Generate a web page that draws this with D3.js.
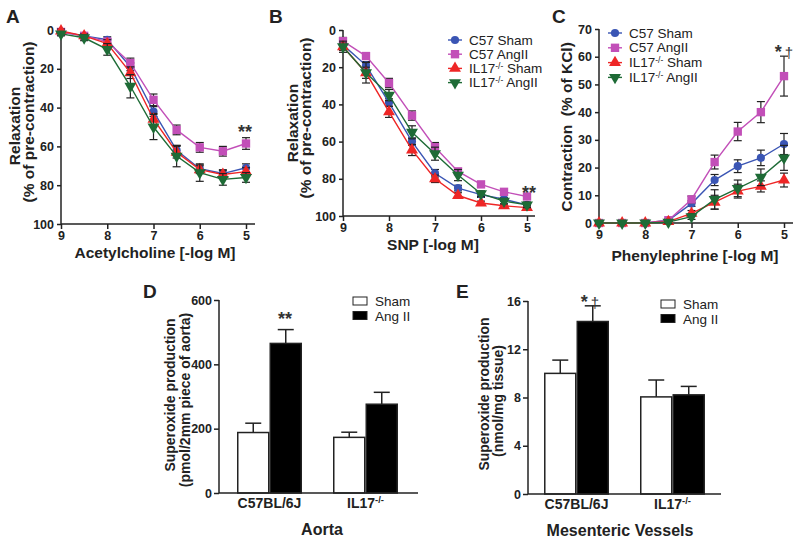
<!DOCTYPE html>
<html><head><meta charset="utf-8">
<script src="https://cdn.jsdelivr.net/npm/d3@7"></script>
<style>
body{margin:0;background:#fff;}
svg{display:block;font-family:"Liberation Sans",Arial,Helvetica,sans-serif;}
</style>
</head><body>
<svg id="chart" width="800" height="545"></svg>
<script>
// ---------- data ----------
const doses = [9, 8.5, 8, 7.5, 7, 6.5, 6, 5.5, 5];
const doseTicks = [9, 8, 7, 6, 5];
const seriesNames = ["C57 Sham", "C57 AngII", "IL17-/- Sham", "IL17-/- AngII"];
const seriesColors = ["#3a55b4", "#c24fb8", "#ee2626", "#1e6b36"];

// A: Acetylcholine relaxation (%)
const achC57Sham   = [1, 3, 5, 19, 42, 62, 71.5, 74, 71];
const achC57Ang    = [1, 3, 6, 17, 36, 51.5, 60.5, 62.5, 58.5];
const achKoSham    = [0.5, 3, 7, 22, 46, 63, 72, 74.5, 73];
const achKoAng     = [2, 4, 10, 29, 50, 65, 73.5, 77, 76];
const achC57ShamE  = [1, 1, 1.5, 2, 2.5, 2.5, 2, 2, 2];
const achC57AngE   = [1, 1, 1.5, 2.5, 3, 2.5, 2.5, 2.5, 3];
const achKoShamE   = [1, 1, 2, 3, 3, 3, 2, 2, 2];
const achKoAngE    = [1, 1.5, 3, 6, 6.5, 5.5, 4.5, 3, 2.5];

// B: SNP relaxation (%)
const snpC57Sham   = [8, 19, 39, 60, 77, 85, 88.5, 91, 94];
const snpC57Ang    = [6, 14, 28.5, 46, 63, 76, 83, 87, 89.5];
const snpKoSham    = [9, 23, 44, 64.5, 80, 89, 93, 94.5, 95.5];
const snpKoAng     = [9, 23, 35, 55, 66.5, 78, 88, 92, 94];
const snpC57ShamE  = [2, 2, 2, 2, 2, 1.5, 1.5, 1, 1];
const snpC57AngE   = [2, 1.5, 2.5, 2.5, 2.5, 1.5, 1, 1, 1];
const snpKoShamE   = [2, 3, 3, 3, 2, 1.5, 1, 1, 1];
const snpKoAngE    = [3, 5.5, 3, 3.5, 3.5, 3, 1.5, 1.5, 1.5];

// C: Phenylephrine contraction (% of KCl)
const pheC57Sham   = [0, 0, 0, 1, 7, 15.5, 20.5, 23.5, 28.5];
const pheC57Ang    = [0, 0, 0, 1, 8.5, 22, 33, 40, 53];
const pheKoSham    = [0, 0, 0, 0.5, 3.5, 7.5, 11.5, 13.2, 15.5];
const pheKoAng     = [0, 0, 0, 0.3, 2.3, 8.5, 12.5, 16.5, 23.5];
const pheC57ShamE  = [0.3, 0.3, 0.3, 0.5, 1, 2, 2.3, 2.8, 3.8];
const pheC57AngE   = [0.3, 0.3, 0.3, 0.5, 1.2, 2.5, 3.3, 3.8, 7.2];
const pheKoShamE   = [0.3, 0.3, 0.3, 0.5, 1, 2.5, 2.5, 2, 2.5];
const pheKoAngE    = [0.3, 0.3, 0.3, 0.5, 1, 3.5, 3, 3, 4.5];

// D / E: superoxide bars
const barGroups = ["C57BL/6J", "IL17-/-"];
const barSeries = ["Sham", "Ang II"];
const aortaSham = [188, 173];
const aortaShamE = [29, 16];
const aortaAng = [465, 276];
const aortaAngE = [43, 37];
const mesSham = [10.0, 8.05];
const mesShamE = [1.1, 1.4];
const mesAng = [14.3, 8.22];
const mesAngE = [1.3, 0.7];

const yTicksRelax = [0, 20, 40, 60, 80, 100];
const yTicksContr = [0, 10, 20, 30, 40, 50, 60, 70];
const yTicksAorta = [0, 200, 400, 600];
const yTicksMes = [0, 4, 8, 12, 16];

// ---------- drawing ----------
const svg = d3.select("#chart");
const INK = "#222";
const symbols = [d3.symbolCircle, d3.symbolSquare, d3.symbolTriangle, d3.symbolTriangle];
const symSizes = [52, 70, 62, 62];
const symRot = [0, 0, 0, 180];

function koLabel(sel, rest, supSize, dySup) {
  sel.append("tspan").text("IL17");
  sel.append("tspan").text("-/-").attr("font-size", supSize).attr("dy", -dySup);
  if (rest) sel.append("tspan").text(rest).attr("dy", dySup);
}

function styleAxis(g) {
  g.selectAll("path.domain").remove();
  g.selectAll(".tick line").attr("stroke", INK).attr("stroke-width", 1.5);
  g.selectAll(".tick text").attr("fill", INK).attr("font-weight", "bold").attr("font-size", 12.5).attr("font-family", null);
}

function linePanel(cfg) {
  const g = svg.append("g");
  const x = d3.scaleLinear().domain([9, 5]).range([cfg.x0, cfg.x1]);
  const y = d3.scaleLinear().domain(cfg.yDomain).range(cfg.yRange);
  const yBottom = Math.max(cfg.yRange[0], cfg.yRange[1]);
  const yTop = Math.min(cfg.yRange[0], cfg.yRange[1]);

  const gx = g.append("g").attr("transform", `translate(0,${yBottom})`)
    .call(d3.axisBottom(x).tickValues(doseTicks).tickFormat(d3.format("d")).tickSize(5).tickPadding(2));
  styleAxis(gx);
  const gy = g.append("g").attr("transform", `translate(${cfg.x0},0)`)
    .call(d3.axisLeft(y).tickValues(cfg.yTicks).tickSize(4).tickPadding(3));
  styleAxis(gy);
  g.append("line").attr("x1", cfg.x0).attr("x2", cfg.xEnd).attr("y1", yBottom).attr("y2", yBottom)
    .attr("stroke", INK).attr("stroke-width", 1.5);
  g.append("line").attr("x1", cfg.x0).attr("x2", cfg.x0).attr("y1", yTop).attr("y2", yBottom)
    .attr("stroke", INK).attr("stroke-width", 1.5);

  const line = d3.line().x((d, i) => x(doses[i])).y(d => y(d));
  cfg.series.forEach((vals, s) => {
    const errs = cfg.errors[s];
    const sg = g.append("g");
    vals.forEach((v, i) => {
      const cx = x(doses[i]);
      const lo = y(v - errs[i]), hi = y(v + errs[i]);
      sg.append("line").attr("x1", cx).attr("x2", cx).attr("y1", lo).attr("y2", hi).attr("stroke", INK).attr("stroke-width", 1.2);
      [lo, hi].forEach(yy => sg.append("line").attr("x1", cx - 4).attr("x2", cx + 4).attr("y1", yy).attr("y2", yy).attr("stroke", INK).attr("stroke-width", 1.2));
    });
    sg.append("path").datum(vals).attr("d", line).attr("fill", "none").attr("stroke", seriesColors[s]).attr("stroke-width", 1.4);
    vals.forEach((v, i) => {
      sg.append("path").attr("d", d3.symbol().type(symbols[s]).size(symSizes[s])())
        .attr("transform", `translate(${x(doses[i])},${y(v)}) rotate(${symRot[s]})`)
        .attr("fill", seriesColors[s]);
    });
  });

  g.append("text").attr("x", cfg.xTitleX).attr("y", cfg.xTitleY).attr("text-anchor", "middle")
    .attr("font-weight", "bold").attr("font-size", 15.5).attr("fill", INK).text(cfg.xTitle);
  cfg.yTitles.forEach(t => {
    g.append("text").attr("transform", `translate(${t.x},${t.y}) rotate(-90)`).attr("text-anchor", "middle")
      .attr("font-weight", "bold").attr("font-size", 15.5).attr("fill", INK).attr("xml:space", "preserve").text(t.text);
  });
  g.append("text").attr("x", cfg.letterX).attr("y", 23).attr("font-weight", "bold").attr("font-size", 19).attr("fill", INK).text(cfg.letter);

  if (cfg.legend) {
    seriesNames.forEach((name, s) => {
      const ly = cfg.legend.y + s * cfg.legend.dy;
      const lx = cfg.legend.x;
      g.append("line").attr("x1", lx - 7).attr("x2", lx + 7).attr("y1", ly).attr("y2", ly).attr("stroke", seriesColors[s]).attr("stroke-width", 1.4);
      g.append("path").attr("d", d3.symbol().type(symbols[s]).size(symSizes[s])())
        .attr("transform", `translate(${lx},${ly}) rotate(${symRot[s]})`).attr("fill", seriesColors[s]);
      const t = g.append("text").attr("x", lx + 14).attr("y", ly + 4.5).attr("font-size", 13.5).attr("fill", INK);
      if (s < 2) t.text(name);
      else koLabel(t, s === 2 ? " Sham" : " AngII", 8.5, 4);
    });
  }
  cfg.marks.forEach(m => {
    const t = g.append("text").attr("x", m.x).attr("y", m.y).attr("text-anchor", "middle").attr("fill", "#333");
    t.append("tspan").attr("font-weight", "bold").attr("font-size", 18).text(m.stars);
    if (m.dagger) t.append("tspan").attr("font-size", 15).attr("dx", 3).text("†");
  });
}

linePanel({
  x0: 61, x1: 246, xEnd: 255, yDomain: [0, 100], yRange: [30, 224], yTicks: yTicksRelax,
  series: [achC57Sham, achC57Ang, achKoSham, achKoAng],
  errors: [achC57ShamE, achC57AngE, achKoShamE, achKoAngE],
  xTitle: "Acetylcholine [-log M]", xTitleX: 155, xTitleY: 258,
  yTitles: [{x: 20, y: 126, text: "Relaxation"}, {x: 34, y: 122, text: "(% of pre-contraction)"}],
  letter: "A", letterX: 6,
  marks: [{x: 245, y: 138, stars: "**"}]
});
linePanel({
  x0: 343, x1: 527, xEnd: 535, yDomain: [0, 100], yRange: [30, 216], yTicks: yTicksRelax,
  series: [snpC57Sham, snpC57Ang, snpKoSham, snpKoAng],
  errors: [snpC57ShamE, snpC57AngE, snpKoShamE, snpKoAngE],
  xTitle: "SNP [-log M]", xTitleX: 433, xTitleY: 250,
  yTitles: [{x: 298, y: 123, text: "Relaxation"}, {x: 311, y: 118, text: "(% of pre-contraction)"}],
  letter: "B", letterX: 269,
  legend: {x: 455, y: 40, dy: 14.2},
  marks: [{x: 529, y: 199, stars: "**"}]
});
linePanel({
  x0: 599, x1: 784, xEnd: 793, yDomain: [0, 70], yRange: [223, 29], yTicks: yTicksContr,
  series: [pheC57Sham, pheC57Ang, pheKoSham, pheKoAng],
  errors: [pheC57ShamE, pheC57AngE, pheKoShamE, pheKoAngE],
  xTitle: "Phenylephrine [-log M]", xTitleX: 695, xTitleY: 261,
  yTitles: [{x: 572, y: 127, text: "Contraction  (% of KCl)"}],
  letter: "C", letterX: 552,
  legend: {x: 615, y: 33, dy: 14.8},
  marks: [{x: 784, y: 58, stars: "*", dagger: true}]
});

function barPanel(cfg) {
  const g = svg.append("g");
  const x0 = d3.scaleBand().domain(barGroups).range([cfg.xLeft, cfg.xRight]).paddingInner(0.323).paddingOuter(cfg.padOuter);
  const x1 = d3.scaleBand().domain(barSeries).range([0, x0.bandwidth()]);
  const y = d3.scaleLinear().domain(cfg.yDomain).range([cfg.yBottom, cfg.yTop]);

  const gy = g.append("g").attr("transform", `translate(${cfg.xLeft},0)`)
    .call(d3.axisLeft(y).tickValues(cfg.yTicks).tickSize(5).tickPadding(2));
  styleAxis(gy);
  g.append("line").attr("x1", cfg.xLeft).attr("x2", cfg.xLeft).attr("y1", cfg.yTop).attr("y2", cfg.yBottom).attr("stroke", INK).attr("stroke-width", 1.5);

  const vals = [cfg.sham, cfg.ang], errs = [cfg.shamE, cfg.angE];
  barGroups.forEach((grp, gi) => {
    barSeries.forEach((ser, si) => {
      const bx = x0(grp) + x1(ser), bw = x1.bandwidth();
      const v = vals[si][gi], e = errs[si][gi];
      const cx = bx + bw / 2;
      g.append("line").attr("x1", cx).attr("x2", cx).attr("y1", y(v)).attr("y2", y(v + e)).attr("stroke", INK).attr("stroke-width", 1.5);
      g.append("line").attr("x1", cx - 8).attr("x2", cx + 8).attr("y1", y(v + e)).attr("y2", y(v + e)).attr("stroke", INK).attr("stroke-width", 1.5);
      g.append("rect").attr("x", bx + 0.75).attr("y", y(v)).attr("width", bw - 1.5).attr("height", cfg.yBottom - y(v))
        .attr("fill", si === 0 ? "#fff" : "#000").attr("stroke", INK).attr("stroke-width", 1.5);
    });
  });

  const gx = g.append("g").attr("transform", `translate(0,${cfg.yBottom})`)
    .call(d3.axisBottom(x0).tickSize(0).tickPadding(5));
  styleAxis(gx);
  gx.selectAll(".tick text").attr("font-size", 14).each(function(d) {
    if (d === "IL17-/-") { const t = d3.select(this); t.text(null); koLabel(t, null, 9.5, 5); }
  });
  g.append("line").attr("x1", cfg.xLeft).attr("x2", cfg.xAxisEnd).attr("y1", cfg.yBottom).attr("y2", cfg.yBottom).attr("stroke", INK).attr("stroke-width", 1.5);

  g.append("text").attr("x", cfg.xTitleX).attr("y", cfg.xTitleY).attr("text-anchor", "middle")
    .attr("font-weight", "bold").attr("font-size", 16).attr("fill", INK).text(cfg.xTitle);
  cfg.yTitles.forEach(t => {
    g.append("text").attr("transform", `translate(${t.x},${t.y}) rotate(-90)`).attr("text-anchor", "middle")
      .attr("font-weight", "bold").attr("font-size", 14).attr("fill", INK).text(t.text);
  });
  g.append("text").attr("x", cfg.letterX).attr("y", cfg.letterY).attr("font-weight", "bold").attr("font-size", 19).attr("fill", INK).text(cfg.letter);

  barSeries.forEach((ser, si) => {
    const ly = cfg.legY + si * 14.5;
    g.append("rect").attr("x", cfg.legX).attr("y", ly - 4).attr("width", 14).attr("height", 8)
      .attr("fill", si === 0 ? "#fff" : "#000").attr("stroke", INK).attr("stroke-width", 1);
    g.append("text").attr("x", cfg.legX + 22).attr("y", ly + 5).attr("font-size", 13.5).attr("fill", INK).text(ser);
  });
  const m = cfg.mark;
  const t = g.append("text").attr("x", m.x).attr("y", m.y).attr("text-anchor", "middle").attr("fill", "#333");
  t.append("tspan").attr("font-weight", "bold").attr("font-size", 18).text(m.stars);
  if (m.dagger) t.append("tspan").attr("font-size", 15).attr("dx", 3).text("†");
}

barPanel({
  xLeft: 219, xRight: 416, xAxisEnd: 418, padOuter: 0.1875, yTop: 300, yBottom: 493,
  yDomain: [0, 600], yTicks: yTicksAorta,
  sham: aortaSham, shamE: aortaShamE, ang: aortaAng, angE: aortaAngE,
  xTitle: "Aorta", xTitleX: 322, xTitleY: 535,
  yTitles: [{x: 175, y: 395, text: "Superoxide production"}, {x: 190, y: 400, text: "(pmol/2mm piece of aorta)"}],
  letter: "D", letterX: 143, letterY: 298,
  legX: 353, legY: 301,
  mark: {x: 285, y: 325, stars: "**"}
});
barPanel({
  xLeft: 528, xRight: 721, xAxisEnd: 721, padOuter: 0.167, yTop: 301, yBottom: 494,
  yDomain: [0, 16], yTicks: yTicksMes,
  sham: mesSham, shamE: mesShamE, ang: mesAng, angE: mesAngE,
  xTitle: "Mesenteric Vessels", xTitleX: 620, xTitleY: 536,
  yTitles: [{x: 489, y: 394, text: "Superoxide production"}, {x: 503, y: 401, text: "(nmol/mg tissue)"}],
  letter: "E", letterX: 456, letterY: 298,
  legX: 661, legY: 304,
  mark: {x: 590, y: 308, stars: "*", dagger: true}
});
</script>
</body></html>
